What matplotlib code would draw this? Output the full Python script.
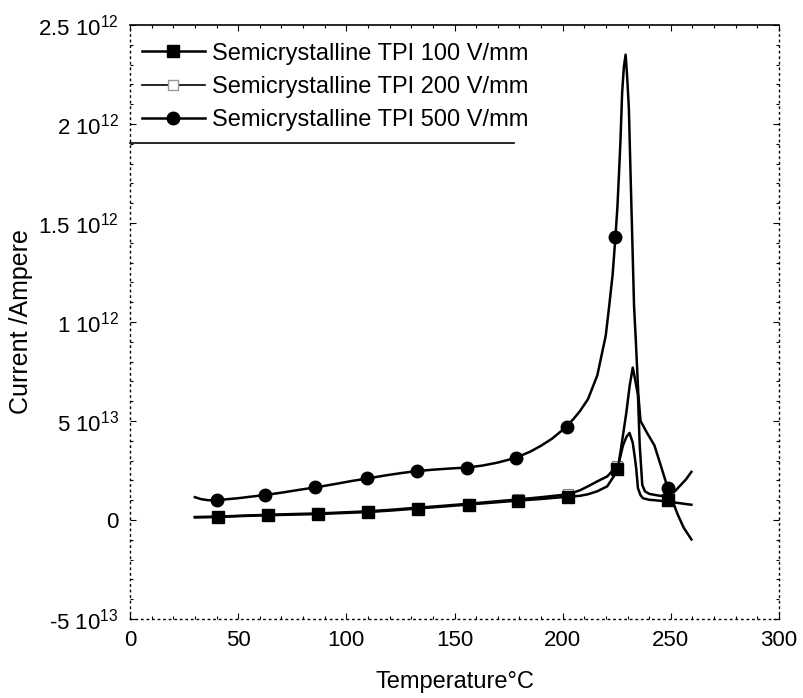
import numpy as np
import matplotlib
matplotlib.use("Agg")
import matplotlib.pyplot as plt
from matplotlib.lines import Line2D
from matplotlib.ticker import MultipleLocator

plt.rcParams['font.family'] = ['Liberation Sans', 'DejaVu Sans']
plt.rcParams['mathtext.fontset'] = 'custom'
plt.rcParams['mathtext.rm'] = 'Liberation Sans'
plt.rcParams['mathtext.it'] = 'Liberation Sans'

# values, current in units of 1e-13 A
t_500 = [30, 33, 36, 40, 45, 50, 56, 63, 70, 78, 86, 95, 103, 110, 118, 126, 133, 140, 148, 156,
         163, 170, 178, 185, 190, 195, 200, 205, 208, 211.7, 216, 219.9, 221.5, 223.1, 224.4, 225.3,
         226, 226.7, 227.5, 228.3, 229.1, 229.8, 230.6, 231.4, 232.2, 233, 233.8, 235, 236, 239,
         242.4, 245.5, 248.6, 251, 253.2, 256, 259.5]
i_500 = [1.15, 1.05, 1.0, 1.0, 1.05, 1.1, 1.18, 1.27, 1.38, 1.52, 1.65, 1.82, 1.98, 2.1, 2.25, 2.38,
         2.47, 2.54, 2.6, 2.65, 2.75, 2.9, 3.13, 3.45, 3.75, 4.1, 4.55, 5.1, 5.5, 6.1, 7.3, 9.3, 10.8,
         12.4, 14.3, 15.8, 17.4, 19.1, 21.6, 22.9, 23.5, 22.4, 20.8, 17.4, 14.1, 10.8, 9.1, 6.3, 5.0,
         4.4, 3.77, 2.7, 1.6, 0.9, 0.27, -0.4, -0.98]

t_100 = [30, 40.6, 52, 63.7, 75, 86.8, 98, 110, 121, 133, 145, 156.5, 168, 179.5, 190, 202.6, 208,
         211.7, 216, 220.6, 224, 226, 227.9, 229.5, 230.9, 232.4, 233.3, 234, 234.8, 236, 237.1, 240,
         242.4, 245, 248.6, 252, 256, 259.5]
i_100 = [0.13, 0.15, 0.2, 0.24, 0.27, 0.3, 0.35, 0.4, 0.48, 0.58, 0.68, 0.78, 0.88, 0.98, 1.06, 1.18,
         1.22, 1.3, 1.45, 1.7, 2.27, 2.9, 3.77, 4.2, 4.4, 3.9, 3.2, 2.6, 1.6, 1.25, 1.1, 1.02, 1.0,
         0.97, 0.93, 0.88, 0.82, 0.77]

t_200 = [30, 40.6, 52, 63.7, 75, 86.8, 98, 110, 121, 133, 145, 156.5, 168, 179.5, 190, 202.6, 208,
         211.7, 216, 220.6, 224, 226, 227.5, 229.4, 231, 232.4, 233.3, 234.8, 235.6, 236.8, 238, 240,
         242.4, 245, 248.6, 251, 254.6, 257, 259.5]
i_200 = [0.15, 0.17, 0.22, 0.26, 0.3, 0.33, 0.38, 0.44, 0.52, 0.62, 0.72, 0.82, 0.93, 1.04, 1.15, 1.3,
         1.5, 1.7, 1.95, 2.2, 2.6, 2.93, 4.0, 5.4, 6.8, 7.7, 7.2, 6.3, 3.8, 1.77, 1.45, 1.32, 1.27,
         1.22, 1.2, 1.35, 1.77, 2.05, 2.43]

# marker positions
mk_500_t = [40.3, 62.6, 85.7, 109.4, 132.7, 155.8, 178.5, 201.9, 224.4, 248.6]
mk_500_i = [1.0, 1.27, 1.65, 2.1, 2.47, 2.65, 3.13, 4.68, 14.3, 1.6]
mk_sq_t = [40.6, 63.7, 86.8, 110, 133, 156.5, 179.5, 202.6, 225, 248.5]
mk_100_i = [0.15, 0.24, 0.3, 0.4, 0.58, 0.78, 0.98, 1.18, 2.6, 1.0]
mk_200_i = [0.17, 0.26, 0.33, 0.44, 0.62, 0.82, 1.04, 1.3, 2.75, 1.2]

labels = ['Semicrystalline TPI 100 V/mm', 'Semicrystalline TPI 200 V/mm',
          'Semicrystalline TPI 500 V/mm']
yticks = [-5e-13, 0, 5e-13, 1e-12, 1.5e-12, 2e-12, 2.5e-12]
ytick_labels = ['-5 10$^{13}$', '0', '5 10$^{13}$', '1 10$^{12}$', '1.5 10$^{12}$',
                '2 10$^{12}$', '2.5 10$^{12}$']

sc = 1e-13
fig = plt.figure(figsize=(8.04, 6.98), dpi=100)
ax = fig.add_axes([0.1617, 0.1132, 0.8072, 0.851])

ax.plot(np.array(t_200), np.array(i_200) * sc, '-', color='k', lw=1.8)
ax.plot(mk_sq_t, np.array(mk_200_i) * sc, 's', ms=7, mfc='white', mec='0.5', mew=0.8)
ax.plot(np.array(t_100), np.array(i_100) * sc, '-', color='k', lw=1.8)
ax.plot(mk_sq_t, np.array(mk_100_i) * sc, 's', ms=8.5, color='k')
ax.plot(np.array(t_500), np.array(i_500) * sc, '-', color='k', lw=1.8)
ax.plot(mk_500_t, np.array(mk_500_i) * sc, 'o', ms=9, color='k')

ax.set_xlim(0, 300)
ax.set_ylim(-5e-13, 2.5e-12)
ax.set_xticks([0, 50, 100, 150, 200, 250, 300])
ax.set_yticks(yticks)
ax.set_yticklabels(ytick_labels)
ax.xaxis.set_minor_locator(MultipleLocator(10))
ax.yaxis.set_minor_locator(MultipleLocator(1e-13))
ax.tick_params(which='both', direction='in', top=True, right=True, labelsize=16)
ax.tick_params(which='major', length=4, width=0.8, pad=8)
ax.tick_params(which='minor', length=2.5, width=0.8)

for side in ['left', 'right', 'bottom']:
    ax.spines[side].set_linestyle((0, (1, 3)))
    ax.spines[side].set_linewidth(1.0)
ax.spines['top'].set_linewidth(1.2)

ax.set_xlabel('Temperature°C', fontsize=17, labelpad=14)
ax.set_ylabel('Current /Ampere', fontsize=18, labelpad=4)

handles = [
    Line2D([], [], color='k', lw=1.8, marker='s', ms=8.5),
    Line2D([], [], color='k', lw=1.2, marker='s', ms=7, mfc='white', mec='0.6'),
    Line2D([], [], color='k', lw=1.8, marker='o', ms=9),
]
leg = ax.legend(handles, labels, loc='upper left', bbox_to_anchor=(0, 0.99), borderaxespad=0,
                frameon=False, fontsize=17, handlelength=2.67, handletextpad=0.3,
                labelspacing=0.47, borderpad=0.5)

# only the bottom edge of the legend box is visible in the source
fig.canvas.draw()
bb = leg.get_window_extent().transformed(ax.transAxes.inverted())
ax.plot([0, bb.x1 - 0.04], [bb.y0, bb.y0], transform=ax.transAxes, color='k', lw=1.2,
        clip_on=False)

plt.savefig('out.png', dpi=100)
